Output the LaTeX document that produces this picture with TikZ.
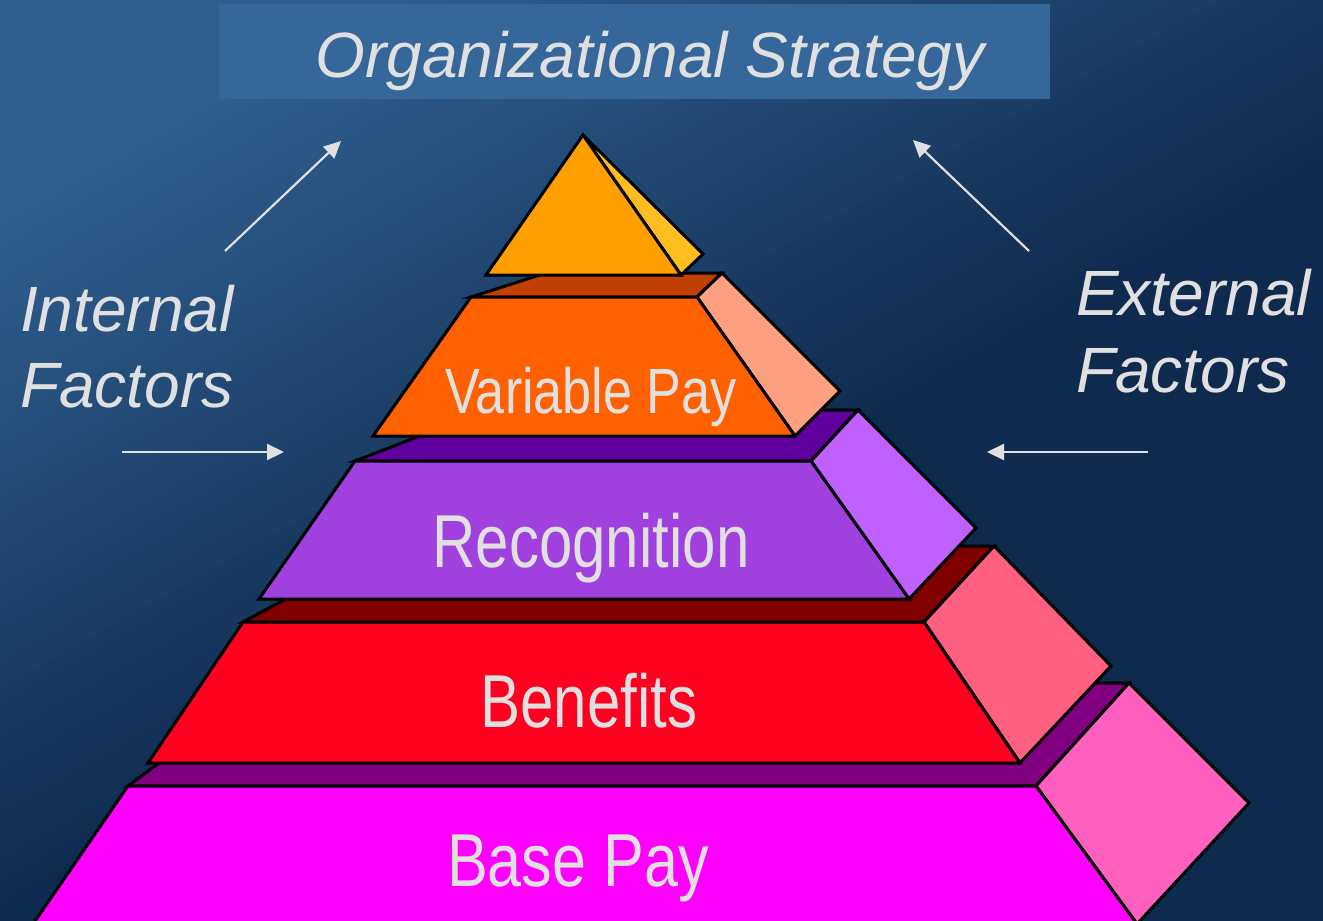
\documentclass[tikz,border=0pt]{standalone}
\usepackage{fontspec}
\usepackage{graphicx}
\setmainfont{Liberation Sans}
\usetikzlibrary{arrows.meta}
\definecolor{bgbright}{HTML}{2F5F8F}
\definecolor{bgdark}{HTML}{0F2A4F}
\definecolor{titlebox}{HTML}{35679A}
\definecolor{txtgrey}{HTML}{E0E0E0}
\definecolor{pyrF}{HTML}{FFA000}
\definecolor{pyrS}{HTML}{FFBE20}
\definecolor{vpF}{HTML}{FF6000}
\definecolor{vpT}{HTML}{BF4000}
\definecolor{vpS}{HTML}{FFA080}
\definecolor{reF}{HTML}{A040DF}
\definecolor{reT}{HTML}{60009F}
\definecolor{reS}{HTML}{BF60FF}
\definecolor{beF}{HTML}{FF0020}
\definecolor{beT}{HTML}{800000}
\definecolor{beS}{HTML}{FF6080}
\definecolor{bpF}{HTML}{FF00FF}
\definecolor{bpT}{HTML}{800080}
\definecolor{bpS}{HTML}{FF60C0}
\begin{document}
\begin{tikzpicture}[x=1pt,y=-1pt,
  face/.style={draw=black,line width=3pt,line join=miter},
  lbl/.style={text=txtgrey,inner sep=0pt,anchor=base},
  sidelbl/.style={text=txtgrey,inner sep=0pt,anchor=base west,font=\itshape\fontsize{64}{64}\selectfont},
  arr/.style={draw=txtgrey,line width=2.2pt,-{Triangle[length=17pt,width=16pt]}}]
\useasboundingbox (0,0) rectangle (1323,921);
\clip (0,0) rectangle (1323,921);
% background gradient
\fill[bgdark] (0,0) rectangle (1323,921);
\fill[bgbright] ({-20*0.4918+1700*0.8707},{-20*0.8707-1700*0.4918}) -- ({201*0.4918+1700*0.8707},{201*0.8707-1700*0.4918}) -- ({201*0.4918-1700*0.8707},{201*0.8707+1700*0.4918}) -- ({-20*0.4918-1700*0.8707},{-20*0.8707+1700*0.4918}) -- cycle;
\foreach \i in {0,...,59}{
  \pgfmathsetmacro\sa{200+\i*10}
  \pgfmathsetmacro\sb{\sa+11}
  \pgfmathtruncatemacro\p{100-(\i+0.5)*100/60}
  \fill[bgbright!\p!bgdark] ({\sa*0.4918+1700*0.8707},{\sa*0.8707-1700*0.4918}) -- ({\sb*0.4918+1700*0.8707},{\sb*0.8707-1700*0.4918}) -- ({\sb*0.4918-1700*0.8707},{\sb*0.8707+1700*0.4918}) -- ({\sa*0.4918-1700*0.8707},{\sa*0.8707+1700*0.4918}) -- cycle;
}
% title
\node[fill=titlebox,inner sep=0pt,minimum width=831pt,minimum height=95pt] (tbox) at (634.5,51.5) {};
\node[lbl,font=\itshape\fontsize{64}{64}\selectfont] (title) at (650,77) {Organizational Strategy};
% base pay
\filldraw[face,fill=bpT] (128,786) -- (1036,786) -- (1129,683) -- (267,683) -- cycle;
\filldraw[face,fill=bpS] (1036,786) -- (1129,683) -- (1249,803) -- (1137,924) -- cycle;
\filldraw[face,fill=bpF] (128,786) -- (1036,786) -- (1137,924) -- (33,924) -- cycle;
% benefits
\filldraw[face,fill=beT] (243,622) -- (924,622) -- (994,546) -- (384,546) -- cycle;
\filldraw[face,fill=beS] (924,622) -- (994,546) -- (1111,666) -- (1020,763) -- cycle;
\filldraw[face,fill=beF] (243,622) -- (924,622) -- (1020,763) -- (148,763) -- cycle;
% recognition
\filldraw[face,fill=reT] (355,461) -- (811,461) -- (858,410) -- (487,410) -- cycle;
\filldraw[face,fill=reS] (811,461) -- (858,410) -- (976,528) -- (909,599) -- cycle;
\filldraw[face,fill=reF] (355,461) -- (811,461) -- (909,599) -- (259,599) -- cycle;
% variable pay
\filldraw[face,fill=vpT] (471,297) -- (697,297) -- (722,273) -- (546,273) -- cycle;
\filldraw[face,fill=vpS] (697,297) -- (722,273) -- (840,391) -- (795,436) -- cycle;
\filldraw[face,fill=vpF] (471,297) -- (697,297) -- (795,436) -- (373,436) -- cycle;
% top pyramid
\filldraw[face,fill=pyrS] (583,135) -- (703,254) -- (681,275) -- cycle;
\filldraw[face,fill=pyrF] (583,135) -- (681,275) -- (486,275) -- cycle;
% labels
\node[lbl] (vp) at (591,413) {\fontsize{64}{64}\selectfont\scalebox{0.815}[1]{Variable Pay}};
\node[lbl] (re) at (591,567) {\fontsize{75}{75}\selectfont\scalebox{0.80}[1]{Recognition}};
\node[lbl] (be) at (589,727) {\fontsize{75}{75}\selectfont\scalebox{0.80}[1]{Benefits}};
\node[lbl] (bp) at (578,886) {\fontsize{75}{75}\selectfont\scalebox{0.815}[1]{Base Pay}};
\node[sidelbl] (int1) at (20,331) {Internal};
\node[sidelbl] (int2) at (20,407) {Factors};
\node[sidelbl] (ext1) at (1076,315) {External};
\node[sidelbl] (ext2) at (1076,392) {Factors};
% arrows
\coordinate (ia1) at (225,251); \coordinate (ia2) at (341,141);
\coordinate (ea1) at (1029,251); \coordinate (ea2) at (913,140);
\coordinate (ih1) at (122,452); \coordinate (ih2) at (284,452);
\coordinate (eh1) at (1148,452); \coordinate (eh2) at (987,452);
\draw[arr] (ia1) -- (ia2);
\draw[arr] (ea1) -- (ea2);
\draw[arr] (ih1) -- (ih2);
\draw[arr] (eh1) -- (eh2);
\end{tikzpicture}
\end{document}
